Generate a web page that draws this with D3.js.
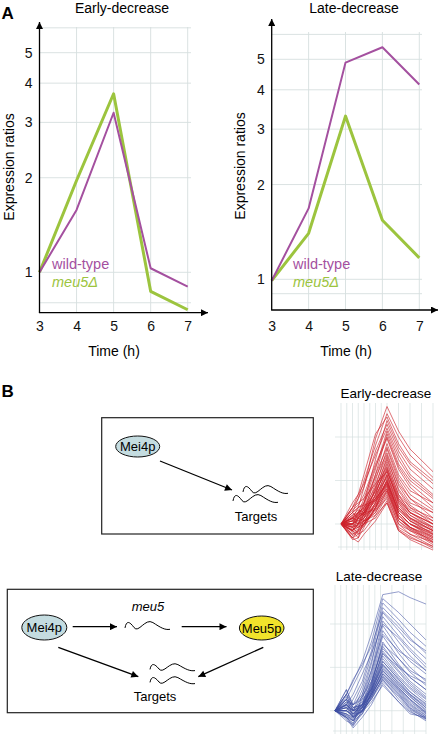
<!DOCTYPE html>
<html><head><meta charset="utf-8">
<script src="https://cdn.jsdelivr.net/npm/d3@7"></script>
<style>
body{margin:0;background:#fff}
svg{display:block}
text{font-family:"Liberation Sans",Arial,Helvetica,sans-serif}
</style>
</head><body>
<svg id="c" width="440" height="734"></svg>
<script>
// ---------------- data ----------------
const hours = [3, 4, 5, 6, 7];
const yTickLabels = [1, 2, 3, 4, 5];
const panelTitles = ["Early-decrease", "Late-decrease"];
const seriesNames = ["wild-type", "meu5\u0394"];
const earlyWild = [1, 1.58, 3.22, 1.03, 0.90];
const earlyMeu5 = [1, 1.96, 3.70, 0.87, 0.76];
const lateWild  = [0.99, 1.68, 4.88, 5.46, 4.16];
const lateMeu5  = [0.99, 1.40, 3.30, 1.54, 1.17];
const earlyGrid = [0.8, 1, 2, 3, 4, 5, 6];
const lateGrid  = [0.9, 1, 2, 3, 4, 5, 6];

const miniGridTimes = [3, 3.25, 3.5, 3.75, 4, 4.25, 4.5, 4.75, 5, 5.5, 6, 6.5, 7];
const miniGridValues = [1, 2, 4];
const miniEarlyTimes = [3, 3.5, 3.75, 4, 4.5, 5, 5.5, 6, 7];
const miniEarlyProfiles = [
  [1, 1.1, 1.3, 1.8, 3.9, 6.5, 4.4, 3.3, 2.3],
  [1, 1.2, 1.5, 2.0, 3.5, 5.8, 4.0, 3.0, 2.1],
  [1, 0.9, 1.1, 1.4, 2.8, 5.2, 3.4, 2.6, 1.9],
  [1, 1.3, 1.6, 1.9, 3.0, 4.6, 3.0, 2.2, 1.6],
  [1, 0.8, 0.9, 1.2, 2.2, 4.2, 2.6, 2.0, 1.5],
  [1, 1.0, 1.2, 1.5, 2.5, 3.9, 2.4, 1.8, 1.3],
  [1, 1.1, 1.0, 1.3, 2.0, 3.6, 2.2, 1.7, 1.4],
  [1, 0.9, 0.8, 1.1, 1.8, 3.3, 2.0, 1.5, 1.1],
  [1, 1.2, 1.3, 1.4, 2.1, 3.1, 1.9, 1.5, 1.2],
  [1, 1.0, 1.1, 1.2, 1.7, 2.9, 1.7, 1.3, 1.0],
  [1, 0.85, 0.9, 1.0, 1.6, 2.7, 1.6, 1.3, 1.1],
  [1, 1.1, 1.2, 1.3, 1.8, 2.5, 1.5, 1.2, 0.95],
  [1, 0.95, 1.0, 1.1, 1.5, 2.4, 1.4, 1.1, 0.9],
  [1, 1.3, 1.4, 1.5, 1.9, 2.3, 1.5, 1.2, 1.0],
  [1, 0.8, 0.85, 1.0, 1.4, 2.2, 1.3, 1.05, 0.85],
  [1, 1.05, 1.15, 1.2, 1.6, 2.1, 1.3, 1.1, 0.95],
  [1, 0.9, 1.0, 1.05, 1.4, 2.0, 1.2, 1.0, 0.8],
  [1, 1.2, 1.1, 1.2, 1.5, 1.9, 1.25, 1.05, 0.9],
  [1, 0.78, 0.8, 0.95, 1.3, 1.85, 1.1, 0.95, 0.75],
  [1, 1.0, 1.05, 1.1, 1.35, 1.8, 1.15, 1.0, 0.85],
  [1, 1.1, 1.2, 1.15, 1.3, 1.7, 1.1, 0.95, 0.8],
  [1, 0.85, 0.9, 1.0, 1.25, 1.65, 1.05, 0.9, 0.72],
  [1, 1.05, 1.0, 1.05, 1.2, 1.6, 1.0, 0.9, 0.78],
  [1, 0.95, 0.85, 0.9, 1.15, 1.55, 1.0, 0.85, 0.7],
  [1, 1.15, 1.25, 1.2, 1.25, 1.5, 0.95, 0.85, 0.75],
  [1, 0.9, 0.95, 1.0, 1.1, 1.45, 0.92, 0.82, 0.68],
  [1, 1.0, 1.1, 1.05, 1.15, 1.4, 0.9, 0.8, 0.7],
  [1, 0.8, 0.75, 0.85, 1.05, 1.4, 0.9, 0.78, 0.66],
  [1, 1.4, 1.6, 2.2, 4.2, 5.5, 3.6, 2.7, 2.0],
  [1, 1.3, 1.5, 1.8, 3.2, 4.9, 3.2, 2.4, 1.75],
  [1, 1.05, 1.2, 1.4, 2.4, 4.4, 2.8, 2.1, 1.55],
  [1, 0.9, 1.0, 1.2, 1.9, 3.0, 1.85, 1.4, 1.2],
  [1, 1.1, 1.05, 1.15, 1.6, 2.6, 1.6, 1.2, 1.0],
  [1, 0.95, 1.1, 1.25, 1.7, 2.35, 1.45, 1.15, 0.92],
  [1, 1.0, 0.95, 1.0, 1.3, 2.05, 1.2, 1.0, 0.88],
  [1, 1.2, 1.3, 1.35, 1.45, 1.75, 1.1, 0.95, 0.82],
  [1, 1.05, 1.1, 1.2, 1.5, 2.2, 1.4, 1.15, 0.95],
  [1, 0.92, 0.95, 1.05, 1.35, 1.95, 1.2, 1.0, 0.82],
  [1, 1.15, 1.2, 1.3, 1.65, 2.45, 1.55, 1.25, 1.05],
  [1, 0.88, 0.92, 1.0, 1.3, 1.9, 1.15, 0.95, 0.78],
  [1, 1.0, 1.08, 1.15, 1.45, 2.15, 1.35, 1.1, 0.9],
  [1, 1.1, 1.15, 1.25, 1.55, 2.3, 1.45, 1.2, 1.0],
  [1, 0.97, 1.02, 1.1, 1.4, 1.95, 1.25, 1.05, 0.86],
  [1, 1.25, 1.35, 1.6, 2.6, 4.0, 2.5, 1.9, 1.4],
  [1, 1.0, 1.15, 1.35, 2.2, 3.4, 2.1, 1.6, 1.25],
  [1, 0.9, 1.0, 1.15, 1.75, 2.8, 1.75, 1.35, 1.05],
  [1, 1.12, 1.18, 1.28, 1.5, 1.85, 1.2, 1.0, 0.84],
  [1, 0.95, 0.98, 1.02, 1.2, 1.7, 1.05, 0.92, 0.74],
  [1, 1.08, 1.12, 1.18, 1.45, 2.0, 1.3, 1.08, 0.9],
  [1, 0.83, 0.88, 0.97, 1.28, 1.75, 1.1, 0.93, 0.76]
];
const miniLateTimes = [3, 3.5, 3.8, 4.2, 4.6, 5.1, 5.8, 6.3, 7];
const miniLateProfiles = [
  [1, 1.3, 1.6, 2.2, 3.4, 6.4, 6.7, 6.1, 5.5],
  [1, 1.2, 1.5, 2.0, 3.0, 6.0, 4.8, 4.0, 3.1],
  [1, 1.0, 1.2, 1.6, 2.6, 5.6, 4.3, 3.5, 2.8],
  [1, 1.4, 1.1, 1.5, 2.4, 5.2, 4.0, 3.2, 2.5],
  [1, 0.9, 0.8, 1.3, 2.1, 4.8, 3.6, 2.9, 2.3],
  [1, 1.1, 1.0, 1.4, 2.2, 4.5, 3.3, 2.7, 2.1],
  [1, 1.2, 0.9, 1.2, 1.9, 4.2, 3.0, 2.4, 1.9],
  [1, 0.95, 0.85, 1.1, 1.8, 3.9, 2.7, 2.2, 1.8],
  [1, 1.3, 1.0, 1.25, 1.7, 3.6, 2.5, 2.0, 1.6],
  [1, 1.05, 0.95, 1.1, 1.6, 3.3, 2.3, 1.85, 1.5],
  [1, 0.9, 0.78, 1.0, 1.5, 3.0, 2.1, 1.7, 1.4],
  [1, 1.2, 1.05, 1.15, 1.55, 2.8, 2.0, 1.6, 1.3],
  [1, 1.0, 0.9, 1.05, 1.45, 2.6, 1.9, 1.55, 1.25],
  [1, 1.1, 1.0, 1.1, 1.4, 2.4, 1.75, 1.45, 1.2],
  [1, 0.85, 0.8, 0.95, 1.35, 2.2, 1.65, 1.35, 1.1],
  [1, 1.15, 1.1, 1.2, 1.4, 2.1, 1.6, 1.3, 1.05],
  [1, 1.0, 0.92, 1.0, 1.3, 2.0, 1.5, 1.25, 1.0],
  [1, 1.25, 1.05, 1.1, 1.35, 1.9, 1.45, 1.2, 0.98],
  [1, 0.92, 0.85, 0.95, 1.25, 1.8, 1.4, 1.15, 0.95],
  [1, 1.05, 1.0, 1.05, 1.3, 1.75, 1.35, 1.1, 0.92],
  [1, 0.95, 0.9, 1.0, 1.2, 1.7, 1.3, 1.05, 0.9],
  [1, 1.1, 1.0, 1.0, 1.2, 1.6, 1.25, 1.02, 0.88],
  [1, 1.4, 1.05, 1.1, 1.25, 1.65, 1.2, 1.0, 0.85],
  [1, 0.88, 0.76, 0.9, 1.1, 1.55, 1.15, 0.98, 0.87],
  [1, 1.0, 0.95, 0.98, 1.15, 1.5, 1.15, 0.95, 0.9],
  [1, 1.3, 1.65, 2.1, 2.8, 4.9, 3.8, 3.1, 2.6],
  [1, 1.1, 1.3, 1.8, 2.5, 4.0, 3.2, 2.6, 2.0],
  [1, 1.2, 1.1, 1.3, 1.9, 3.4, 2.6, 2.3, 1.9],
  [1, 0.9, 0.85, 1.05, 1.55, 2.9, 2.3, 1.9, 1.65],
  [1, 1.05, 0.95, 1.1, 1.5, 2.5, 2.0, 1.75, 1.55],
  [1, 1.1, 0.95, 1.05, 1.35, 2.1, 1.55, 1.3, 1.08],
  [1, 0.95, 0.88, 1.0, 1.3, 1.95, 1.5, 1.25, 1.02],
  [1, 1.2, 1.0, 1.1, 1.4, 2.3, 1.7, 1.42, 1.15],
  [1, 1.05, 0.9, 1.02, 1.28, 1.85, 1.42, 1.18, 0.96],
  [1, 0.9, 0.82, 0.98, 1.25, 1.8, 1.38, 1.12, 0.93],
  [1, 1.15, 1.02, 1.12, 1.45, 2.5, 1.85, 1.5, 1.22],
  [1, 1.0, 0.93, 1.05, 1.38, 2.05, 1.55, 1.28, 1.05],
  [1, 1.3, 1.1, 1.25, 1.6, 2.7, 2.05, 1.7, 1.4],
  [1, 0.93, 0.86, 1.0, 1.32, 1.9, 1.45, 1.2, 0.97],
  [1, 1.08, 0.97, 1.06, 1.3, 1.72, 1.32, 1.08, 0.9],
  [1, 1.0, 0.9, 1.0, 1.22, 1.65, 1.28, 1.04, 0.88],
  [1, 1.12, 1.0, 1.08, 1.42, 2.2, 1.65, 1.35, 1.12]
];

// ---------------- styles ----------------
const PURPLE = "#a4509f", GREEN = "#9cc43e", GRID = "#d6dfdf";
const svg = d3.select("#c");
const defs = svg.append("defs");
function marker(id, w, h) {
  defs.append("marker").attr("id", id).attr("viewBox", "0 0 10 10")
    .attr("refX", 10).attr("refY", 5).attr("markerUnits", "userSpaceOnUse")
    .attr("markerWidth", w).attr("markerHeight", h).attr("orient", "auto")
    .append("path").attr("d", "M0,0L10,5L0,10z").attr("fill", "#000");
}
marker("ax", 8, 7);
marker("ar", 9, 7);

// ---------------- panel A ----------------
function mainChart(o) {
  const g = svg.append("g");
  const x = d3.scaleLinear().domain([3, 7]).range([o.x3, o.x7]);
  const y = d3.scaleLog().domain([1, 5]).range([o.y1, o.y5]);
  g.selectAll(".hg").data(o.grid).join("line")
    .attr("x1", o.x3).attr("x2", o.gridRight)
    .attr("y1", d => y(d)).attr("y2", d => y(d))
    .attr("stroke", GRID).attr("stroke-width", 0.9);
  g.selectAll(".vg").data(hours.slice(1)).join("line")
    .attr("x1", d => x(d)).attr("x2", d => x(d))
    .attr("y1", o.gridTop).attr("y2", o.axisY)
    .attr("stroke", GRID).attr("stroke-width", 0.9);
  const line = vals => d3.line().x((d, i) => x(hours[i])).y(d => y(d))(vals);
  g.append("path").attr("d", line(o.meu5)).attr("fill", "none")
    .attr("stroke", GREEN).attr("stroke-width", 3).attr("stroke-linejoin", "round");
  g.append("path").attr("d", line(o.wild)).attr("fill", "none")
    .attr("stroke", PURPLE).attr("stroke-width", 2).attr("stroke-linejoin", "round");
  const ya = g.append("g").attr("transform", `translate(${o.x3},0)`)
    .call(d3.axisLeft(y).tickValues(yTickLabels).tickFormat(d3.format("d")).tickSize(0).tickPadding(7));
  ya.select(".domain").remove();
  ya.selectAll("text").attr("font-size", 14).attr("fill", "#111")
    .attr("font-family", '"Liberation Sans",Arial,sans-serif');
  const xa = g.append("g").attr("transform", `translate(0,${o.axisY})`)
    .call(d3.axisBottom(x).tickValues(hours).tickFormat(d3.format("d")).tickSize(0).tickPadding(o.xPad));
  xa.select(".domain").remove();
  xa.selectAll("text").attr("font-size", 14).attr("fill", "#111")
    .attr("font-family", '"Liberation Sans",Arial,sans-serif');
  g.append("line").attr("x1", o.x3).attr("y1", o.axisY).attr("x2", o.x3).attr("y2", o.arrowTop)
    .attr("stroke", "#000").attr("stroke-width", 1.3).attr("marker-end", "url(#ax)");
  g.append("line").attr("x1", o.x3 - 0.6).attr("y1", o.axisY).attr("x2", o.arrowRight).attr("y2", o.axisY)
    .attr("stroke", "#000").attr("stroke-width", 1.3).attr("marker-end", "url(#ax)");
  g.append("text").attr("x", o.titleX).attr("y", 13).attr("text-anchor", "middle")
    .attr("font-size", 14).text(o.title);
  g.append("text").attr("transform", `translate(${o.labelX},${o.labelY}) rotate(-90)`)
    .attr("text-anchor", "middle").attr("font-size", 14).text("Expression ratios");
  g.append("text").attr("x", o.timeX).attr("y", 356).attr("text-anchor", "middle")
    .attr("font-size", 14).text("Time (h)");
  g.append("text").attr("x", o.legendX).attr("y", 269).attr("font-size", 14.5)
    .attr("fill", PURPLE).text(seriesNames[0]);
  g.append("text").attr("x", o.legendX).attr("y", 287).attr("font-size", 14.5)
    .attr("font-style", "italic").attr("fill", GREEN).text(seriesNames[1]);
}

mainChart({x3: 39.5, x7: 187.7, y1: 272.3, y5: 52.7, grid: earlyGrid, gridRight: 191, gridTop: 27,
  axisY: 312.7, arrowTop: 22, arrowRight: 208, xPad: 8, wild: earlyWild, meu5: earlyMeu5,
  title: panelTitles[0], titleX: 122, labelX: 14, labelY: 167, timeX: 114, legendX: 52});
mainChart({x3: 271.7, x7: 419.3, y1: 279.3, y5: 59.3, grid: lateGrid, gridRight: 422, gridTop: 32,
  axisY: 310, arrowTop: 19, arrowRight: 438, xPad: 11, wild: lateWild, meu5: lateMeu5,
  title: panelTitles[1], titleX: 354, labelX: 244.5, labelY: 166, timeX: 346, legendX: 293});

svg.append("text").attr("x", 1.5).attr("y", 18.5).attr("font-size", 17).attr("font-weight", "bold").text("A");
svg.append("text").attr("x", 1.5).attr("y", 397).attr("font-size", 17).attr("font-weight", "bold").text("B");

// ---------------- mini profile charts ----------------
function miniChart(o) {
  const g = svg.append("g");
  const x = d3.scaleLinear().domain([3, 7]).range([o.x3, o.x7]);
  const y = d3.scaleLog().domain([1, 4]).range([o.y1, o.y4]);
  g.selectAll(".vg").data(miniGridTimes).join("line")
    .attr("x1", d => x(d)).attr("x2", d => x(d)).attr("y1", o.top).attr("y2", o.bottom + 3)
    .attr("stroke", GRID).attr("stroke-width", 0.7);
  g.selectAll(".hg").data(miniGridValues).join("line")
    .attr("x1", o.left - 3).attr("x2", o.x7).attr("y1", d => y(d)).attr("y2", d => y(d))
    .attr("stroke", GRID).attr("stroke-width", 0.7);
  g.append("line").attr("x1", o.left).attr("x2", o.x7).attr("y1", o.bottom).attr("y2", o.bottom)
    .attr("stroke", GRID).attr("stroke-width", 0.7);
  const line = d3.line().x((d, i) => x(o.times[i])).y(d => y(d));
  g.selectAll(".pl").data(o.profiles).join("path")
    .attr("d", line).attr("fill", "none").attr("stroke", o.color)
    .attr("stroke-width", 0.85).attr("stroke-opacity", o.opacity);
  g.append("text").attr("x", o.titleX).attr("y", o.titleY).attr("text-anchor", "middle")
    .attr("font-size", 13.5).text(o.title);
}
miniChart({x3: 341, x7: 433, y1: 524, y4: 437, top: 403, bottom: 547, left: 338,
  times: miniEarlyTimes, profiles: miniEarlyProfiles, color: "#cc1f29", opacity: 0.75,
  title: panelTitles[0], titleX: 386, titleY: 398});
miniChart({x3: 335, x7: 426, y1: 710.7, y4: 624, top: 585, bottom: 731, left: 333,
  times: miniLateTimes, profiles: miniLateProfiles, color: "#3e4ea3", opacity: 0.65,
  title: panelTitles[1], titleX: 379, titleY: 581});

// ---------------- schematic diagrams ----------------
function wave(x, y, w, h) {
  return `M${x},${y + h * 0.55} C${x + w * 0.03},${y - h * 0.3} ${x + w * 0.1},${y - h * 0.2} ${x + w * 0.2},${y + h * 0.5}` +
    ` S${x + w * 0.45},${y - h * 0.6} ${x + w * 0.62},${y - h * 0.05}` +
    ` S${x + w * 0.88},${y + h * 0.8} ${x + w},${y + h * 0.7}`;
}
function ellipse(g, cx, cy, rx, ry, fill, label) {
  g.append("ellipse").attr("cx", cx).attr("cy", cy).attr("rx", rx).attr("ry", ry)
    .attr("fill", fill).attr("stroke", "#111").attr("stroke-width", 1);
  g.append("text").attr("x", cx).attr("y", cy + 4.5).attr("text-anchor", "middle")
    .attr("font-size", 13).text(label);
}
function arrow(g, x1, y1, x2, y2) {
  g.append("line").attr("x1", x1).attr("y1", y1).attr("x2", x2).attr("y2", y2)
    .attr("stroke", "#000").attr("stroke-width", 1.3).attr("marker-end", "url(#ar)");
}
function wavy(g, d) {
  g.append("path").attr("d", d).attr("fill", "none").attr("stroke", "#000").attr("stroke-width", 1);
}
const b1 = svg.append("g");
b1.append("rect").attr("x", 101.7).attr("y", 417.7).attr("width", 211.6).attr("height", 116.3)
  .attr("fill", "none").attr("stroke", "#222").attr("stroke-width", 1.2);
ellipse(b1, 137.7, 446.5, 22, 10.5, "#c4dce0", "Mei4p");
arrow(b1, 160, 461, 232, 490);
wavy(b1, wave(243, 487, 45, 9));
wavy(b1, wave(233, 496, 45, 9));
b1.append("text").attr("x", 256).attr("y", 521).attr("text-anchor", "middle").attr("font-size", 13).text("Targets");
const b2 = svg.append("g");
b2.append("rect").attr("x", 7.3).attr("y", 589.3).attr("width", 306).attr("height", 123.4)
  .attr("fill", "none").attr("stroke", "#222").attr("stroke-width", 1.2);
ellipse(b2, 44.3, 627.5, 22.5, 12.5, "#c4dce0", "Mei4p");
ellipse(b2, 261.7, 628, 22.3, 12, "#f1e32b", "Meu5p");
b2.append("text").attr("x", 148).attr("y", 611).attr("text-anchor", "middle")
  .attr("font-size", 13).attr("font-style", "italic").text("meu5");
arrow(b2, 72.7, 626.7, 117, 626.7);
arrow(b2, 181.7, 626.7, 226.5, 626.7);
wavy(b2, wave(125, 623, 45, 9));
arrow(b2, 58.3, 647.3, 138.3, 676.7);
arrow(b2, 263.3, 647.3, 198.3, 676.7);
wavy(b2, wave(150, 665, 45, 8));
wavy(b2, wave(150, 678, 45, 8));
b2.append("text").attr("x", 155).attr("y", 701).attr("text-anchor", "middle").attr("font-size", 13).text("Targets");
</script>
</body></html>
